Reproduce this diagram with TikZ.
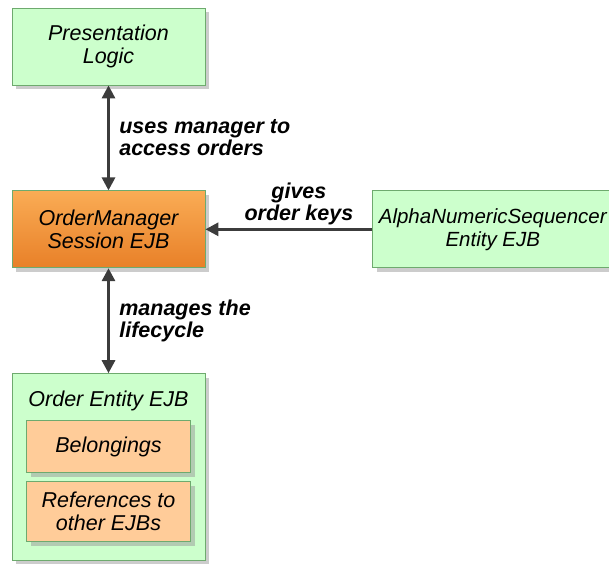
\documentclass[tikz,border=0pt]{standalone}
\usepackage{fontspec}
\setmainfont{Liberation Sans}
\usepackage{tikz}
\usetikzlibrary{arrows.meta,positioning,shadows}

\definecolor{boxgreen}{RGB}{204,255,204}
\definecolor{edgegreen}{RGB}{110,170,110}
\definecolor{mgrlight}{RGB}{250,172,85}
\definecolor{mgrdark}{RGB}{232,128,40}
\definecolor{partorange}{RGB}{255,204,153}
\definecolor{arrowgray}{RGB}{60,60,60}

\begin{document}
\begin{tikzpicture}[
    x=1pt, y=1pt,
    node distance=105pt,
    greenbox/.style={
        % The shape:
        rectangle,
        minimum width=193pt,
        minimum height=77pt,
        align=center,
        % The fill
        thick,
        draw=edgegreen,
        fill=boxgreen,
        drop shadow={shadow xshift=4pt,shadow yshift=-4pt,fill=black!40},
        % The fonts
        font=\fontsize{21.5}{23}\selectfont\itshape},
    mgrbox/.style={greenbox, top color=mgrlight, bottom color=mgrdark},
    partbox/.style={greenbox, fill=partorange, minimum width=164pt, minimum height=52pt},
    title/.style={font=\fontsize{21.5}{23}\selectfont\itshape},
    conn/.style={line width=3pt, draw=arrowgray,
        {Triangle[length=13pt,width=13pt]}-{Triangle[length=13pt,width=13pt]}},
    feed/.style={conn, -{Triangle[length=13pt,width=13pt]}},
    lbl/.style={font=\fontsize{21.5}{22}\selectfont\bfseries\itshape, align=left}
  ]
  \useasboundingbox (0,0) rectangle (609,563);
  \clip (0,0) rectangle (609,563);
  % the boxes
  \node (pres) [greenbox] at (108.5,516.5) {Presentation\\Logic};
  \node (mgr) [mgrbox, below=of pres] {OrderManager\\Session EJB};
  \node (seq) [greenbox, right=167pt of mgr, minimum width=240pt, inner sep=1pt,
    font=\fontsize{20.5}{23}\selectfont\itshape] {AlphaNumericSequencer\\Entity EJB};
  \node (ent) [greenbox, below=of mgr, minimum height=187pt] {};
  \node (enttitle) [title, below=14pt of ent.north] {Order Entity EJB};
  \node (bel) [partbox, below=6pt of enttitle] {Belongings};
  \node (refs) [partbox, below=8pt of bel, minimum height=60pt] {References to\\other EJBs};
  % the connectors
  \draw [conn] (pres) -- node [lbl, right=6pt] {uses manager to\\access orders} (mgr);
  \draw [feed] (seq) -- node [lbl, above, align=center, xshift=10pt] {gives\\order keys} (mgr);
  \draw [conn] (mgr) -- node [lbl, right=6pt] {manages the\\lifecycle} (ent);
\end{tikzpicture}
\end{document}
